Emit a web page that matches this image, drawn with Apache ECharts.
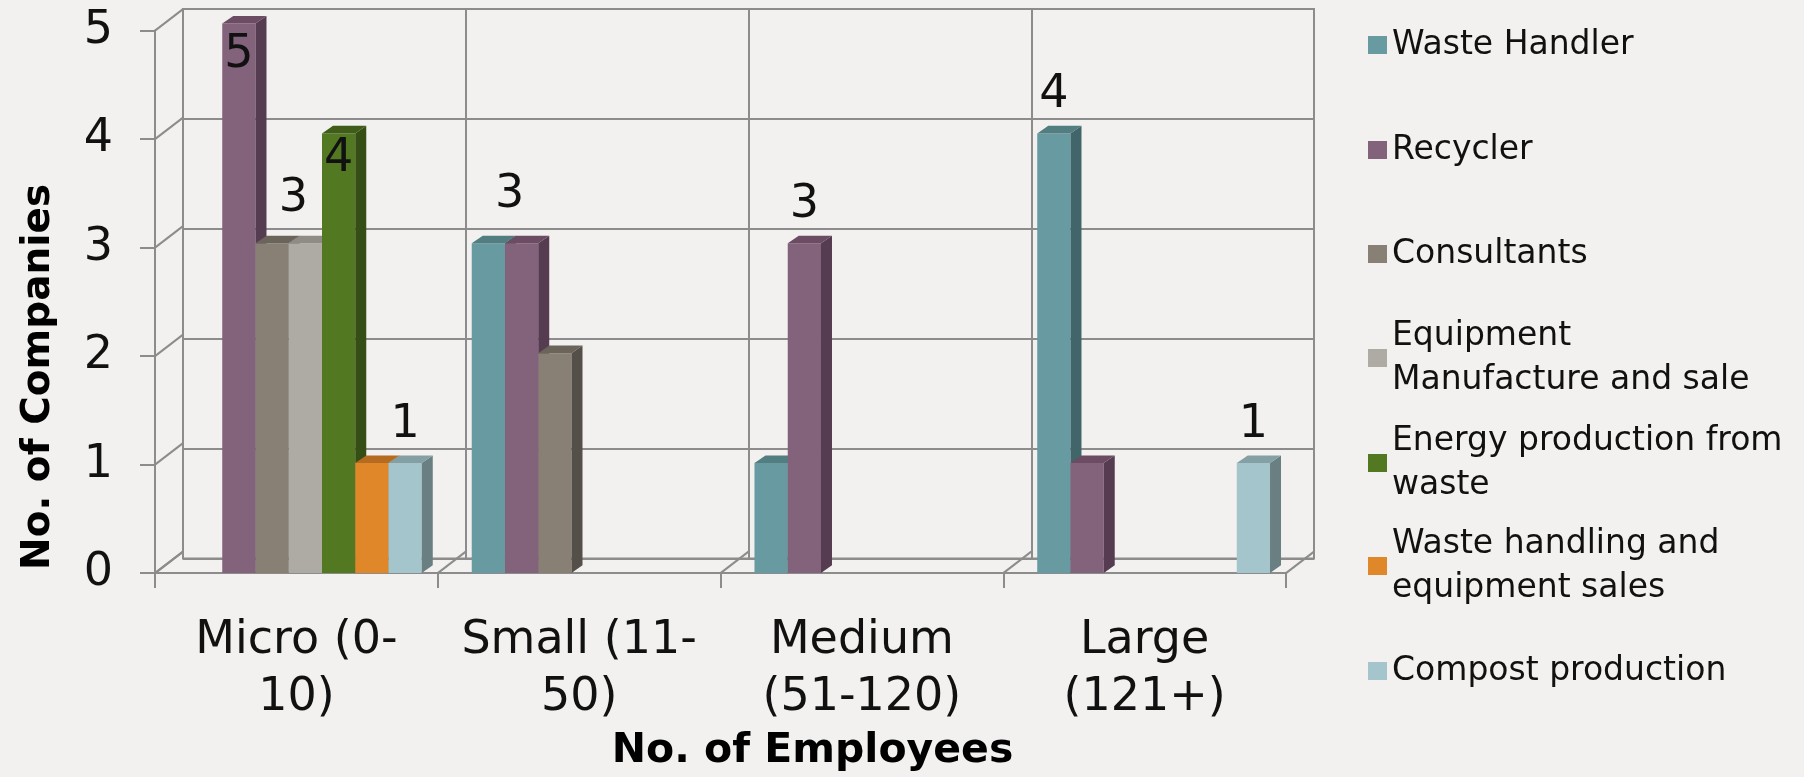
<!DOCTYPE html>
<html>
<head>
<meta charset="utf-8">
<script src="https://cdn.jsdelivr.net/npm/echarts@6/dist/echarts.min.js"></script>
<style>
  html, body { margin: 0; padding: 0; background: #f2f1ef; }
  #chart { width: 1804px; height: 777px; }
</style>
</head>
<body>
<div id="chart"></div>
<script>
// ---- data ----
const categories = ['Micro (0-\n10)', 'Small (11-\n50)', 'Medium\n(51-120)', 'Large\n(121+)'];
const yTicks = [0, 1, 2, 3, 4, 5];
const seriesNames = [
  'Waste Handler',
  'Recycler',
  'Consultants',
  'Equipment Manufacture and sale',
  'Energy production from waste',
  'Waste handling and equipment sales',
  'Compost production'
];
const wasteHandler      = [0, 3, 1, 4];
const recycler          = [5, 3, 3, 1];
const consultants       = [3, 2, 0, 0];
const equipmentSale     = [3, 0, 0, 0];
const energyFromWaste   = [4, 0, 0, 0];
const handlingAndSales  = [1, 0, 0, 0];
const compost           = [1, 0, 0, 1];
const seriesValues = [wasteHandler, recycler, consultants, equipmentSale, energyFromWaste, handlingAndSales, compost];

// which bars carry a value label (series index, category index)
const labelledBars = [[1, 0], [3, 0], [4, 0], [6, 0], [1, 1], [1, 2], [0, 3], [6, 3]];

// ---- styling ----
const FONT = '"DejaVu Sans", sans-serif';
const LINE = '#8c8c8c';
const faceColors = ['#679ba1', '#83627b', '#887f75', '#aeaaa4', '#527821', '#e0872a', '#a4c5cb'];
const topColors  = ['#527d81', '#6b4c63', '#6b645b', '#8f8b85', '#3f5d18', '#b56b20', '#84a0a4'];
const sideColors = ['#416569', '#563c50', '#554f49', '#76726d', '#354e15', '#94581b', '#6a7f82'];
const legendText = {
  'Equipment Manufacture and sale': 'Equipment\nManufacture and sale',
  'Energy production from waste': 'Energy production from\nwaste',
  'Waste handling and equipment sales': 'Waste handling and\nequipment sales'
};
// label offsets from the top centre of a bar face
const labelShift = {
  '1,0': [0, 31], '4,0': [0, 26],
  '3,0': [-12, -44], '1,1': [-12, -48]
};

const FRONT = { left: 155, top: 30.6, width: 1131, height: 549.4 };
const WALL = { dx: 28, dy: 21.5 };   // depth of the back wall
const BAR = { dx: 9, dy: 7 };        // depth at which bars stand
const BAR_DEPTH = { dx: 11, dy: 7.7 };
const CAT_GAP = 0.1767;

const chart = echarts.init(document.getElementById('chart'));

function hiddenAxis(type, gridIndex) {
  return {
    type, gridIndex, show: false,
    data: type === 'category' ? categories : undefined,
    min: type === 'value' ? 0 : undefined,
    max: type === 'value' ? 5 : undefined,
    interval: type === 'value' ? 1 : undefined
  };
}

function barSeries(k) {
  const key = (c) => k + ',' + c;
  const labelled = new Set(labelledBars.filter(p => p[0] === k).map(p => key(p[1])));
  return {
    type: 'custom',
    name: seriesNames[k],
    xAxisIndex: 2, yAxisIndex: 2,
    itemStyle: { color: faceColors[k] },
    clip: false,
    z: 5,
    data: seriesValues[k].map((v, i) => [i, v]),
    encode: { x: 0, y: 1 },
    renderItem(params, api) {
      const c = api.value(0);
      const v = api.value(1);
      if (!v) return null;
      const band = api.size([1, 0])[0];
      const barW = band * (1 - CAT_GAP) / seriesNames.length;
      const base = api.coord([c, 0]);
      const topY = api.coord([c, v])[1];
      const x0 = base[0] - band / 2 + band * CAT_GAP / 2 + k * barW;
      const x1 = x0 + barW;
      const dx = BAR_DEPTH.dx, dy = BAR_DEPTH.dy;
      const children = [
        { type: 'rect', shape: { x: x0, y: topY, width: barW, height: base[1] - topY },
          style: { fill: faceColors[k] } },
        { type: 'polygon', shape: { points: [[x1, topY], [x1 + dx, topY - dy], [x1 + dx, base[1] - dy], [x1, base[1]]] },
          style: { fill: sideColors[k] } },
        { type: 'polygon', shape: { points: [[x0, topY], [x0 + dx, topY - dy], [x1 + dx, topY - dy], [x1, topY]] },
          style: { fill: topColors[k] } }
      ];
      if (labelled.has(key(c))) {
        const s = labelShift[key(c)] || [0, -38];
        children.push({
          type: 'text',
          style: {
            text: String(v), x: (x0 + x1) / 2 + s[0], y: topY + s[1],
            fill: '#111', fontSize: 46, fontFamily: FONT,
            align: 'center', verticalAlign: 'middle'
          }
        });
      }
      return { type: 'group', children };
    }
  };
}

// diagonal edges joining the front axes to the back wall
const wallEdges = {
  type: 'custom', name: 'wall', silent: true, z: 1,
  xAxisIndex: 0, yAxisIndex: 0, clip: false,
  data: yTicks.map(v => [0, v]),
  encode: { x: 0, y: 1 },
  renderItem(params, api) {
    const p = api.coord([0, api.value(1)]);
    const band = api.size([1, 0])[0];
    const x = p[0] - band / 2;
    return { type: 'line', shape: { x1: x, y1: p[1], x2: x + WALL.dx, y2: p[1] - WALL.dy },
      style: { stroke: LINE, lineWidth: 2 } };
  }
};
const floorEdges = {
  type: 'custom', name: 'floor', silent: true, z: 1,
  xAxisIndex: 0, yAxisIndex: 0, clip: false,
  data: [0, 1, 2, 3, 4].map(b => [b, 0]),
  encode: { x: 0, y: 1 },
  renderItem(params, api) {
    const b = api.value(0);
    const band = api.size([1, 0])[0];
    const p = api.coord([0, 0]);
    const x = p[0] - band / 2 + b * band;
    return { type: 'line', shape: { x1: x, y1: p[1], x2: x + WALL.dx, y2: p[1] - WALL.dy },
      style: { stroke: LINE, lineWidth: 2 } };
  }
};

const legendCentres = [45, 150, 254, 358, 463, 566, 671];

const option = {
  backgroundColor: '#f2f1ef',
  animation: false,
  grid: [
    { left: FRONT.left, top: FRONT.top, width: FRONT.width, height: FRONT.height },
    { left: FRONT.left + WALL.dx, top: FRONT.top - WALL.dy, width: FRONT.width, height: FRONT.height,
      show: true, borderColor: LINE, borderWidth: 2, backgroundColor: 'transparent' },
    { left: FRONT.left + BAR.dx, top: FRONT.top - BAR.dy, width: FRONT.width, height: FRONT.height }
  ],
  xAxis: [
    {
      type: 'category', gridIndex: 0, data: categories,
      axisLine: { lineStyle: { color: LINE, width: 2 } },
      axisTick: { show: true, length: 15, lineStyle: { color: LINE, width: 2 } },
      axisLabel: { color: '#111', fontSize: 46, lineHeight: 57, fontFamily: FONT, margin: 39, interval: 0 },
      splitLine: { show: false },
      name: 'No. of Employees', nameLocation: 'middle', nameGap: 152,
      nameTextStyle: { color: '#000', fontSize: 41, fontWeight: 'bold', fontFamily: FONT, padding: [0, 0, 0, 184] }
    },
    {
      type: 'category', gridIndex: 1, data: categories,
      axisLine: { show: false }, axisTick: { show: false }, axisLabel: { show: false },
      splitLine: { show: true, lineStyle: { color: LINE, width: 2 } }
    },
    hiddenAxis('category', 2)
  ],
  yAxis: [
    {
      type: 'value', gridIndex: 0, min: 0, max: 5, interval: 1,
      axisLine: { show: true, lineStyle: { color: LINE, width: 2 } },
      axisTick: { show: true, length: 15, lineStyle: { color: LINE, width: 2 } },
      axisLabel: { color: '#111', fontSize: 46, fontFamily: FONT, margin: 42 },
      splitLine: { show: false },
      name: 'No. of Companies', nameLocation: 'middle', nameGap: 97,
      nameTextStyle: { color: '#000', fontSize: 39, fontWeight: 'bold', fontFamily: FONT, padding: [0, 150, 0, 0] }
    },
    {
      type: 'value', gridIndex: 1, min: 0, max: 5, interval: 1,
      axisLine: { show: false }, axisTick: { show: false }, axisLabel: { show: false },
      splitLine: { show: true, lineStyle: { color: LINE, width: 2 } }
    },
    hiddenAxis('value', 2)
  ],
  legend: seriesNames.map((name, k) => {
    const twoLines = !!legendText[name];
    return {
      data: [name],
      left: 1368,
      top: legendCentres[k] - (twoLines ? 66 : 22),
      padding: 0,
      icon: 'rect',
      itemWidth: 19, itemHeight: 18, itemGap: 10,
      selectedMode: false,
      formatter: (n) => legendText[n] || n,
      textStyle: { color: '#111', fontSize: 33, lineHeight: 44, fontFamily: FONT,
        padding: twoLines ? [44, 0, 0, 0] : 0 }
    };
  }),
  series: [wallEdges, floorEdges].concat(seriesNames.map((n, k) => barSeries(k)))
};

chart.setOption(option);
</script>
</body>
</html>
